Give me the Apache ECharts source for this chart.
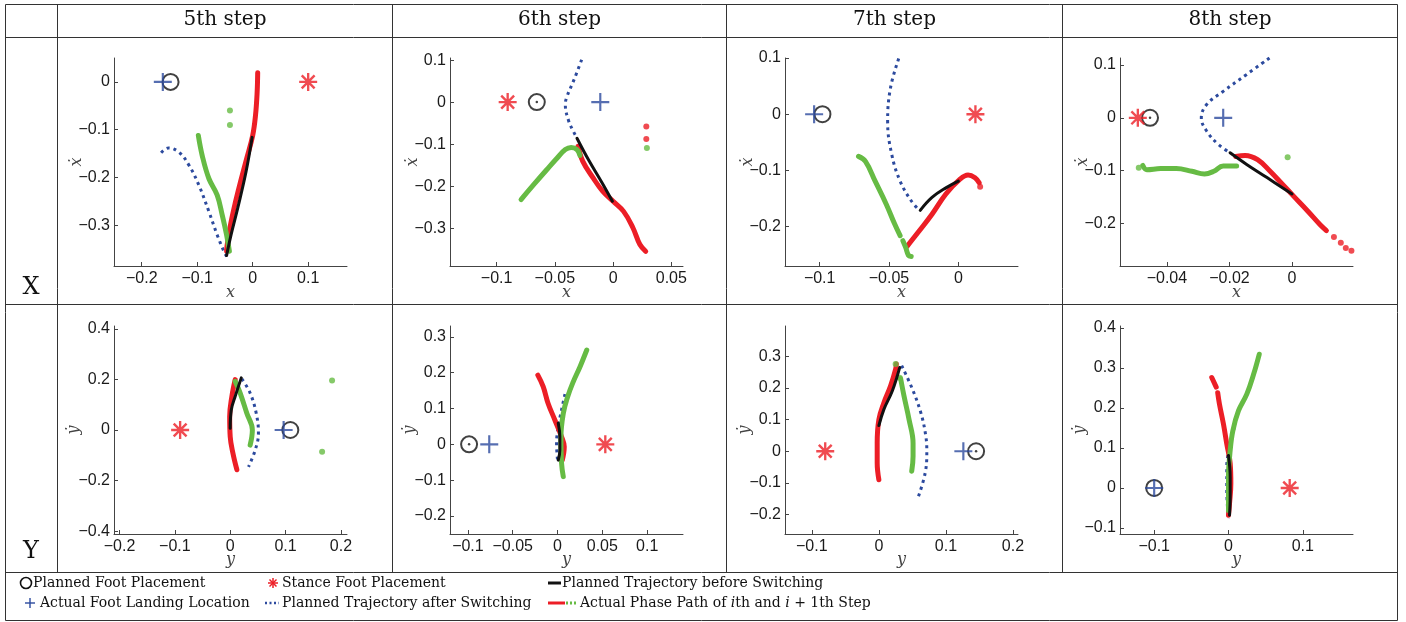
<!DOCTYPE html>
<html><head><meta charset="utf-8">
<script src="https://cdn.jsdelivr.net/npm/echarts@6/dist/echarts.min.js"></script>
<style>html,body{margin:0;padding:0;background:#fff}#c{width:1406px;height:622px}</style>
</head><body><div id="c"></div>
<script>
// ---------- text ----------
const steps = ['5th step', '6th step', '7th step', '8th step'];
const rowLabels = ['X', 'Y'];
const rowXNames = ['x', 'y'];
const rowYNames = ['\u1E8B', '\u1E8F'];

// ---------- X row, 5th step ----------
const x5XRange = [-0.25, 0.17], x5YRange = [-0.385, 0.05];
const x5XTicks = [-0.2, -0.1, 0, 0.1], x5YTicks = [-0.3, -0.2, -0.1, 0];
const x5Red = [[0.009,0.019],[0.008,-0.022],[0.005,-0.071],[0,-0.112],[-0.011,-0.161],[-0.022,-0.209],[-0.031,-0.251],[-0.040,-0.299],[-0.046,-0.341],[-0.047,-0.354]];
const x5RedDots = [];
const x5Green = [[-0.098,-0.112],[-0.091,-0.154],[-0.079,-0.202],[-0.064,-0.237],[-0.055,-0.278],[-0.047,-0.320],[-0.042,-0.354]];
const x5GreenDots = [[-0.041,-0.060],[-0.041,-0.090]];
const x5Blue = [[-0.165,-0.148],[-0.152,-0.138],[-0.133,-0.147],[-0.115,-0.174],[-0.097,-0.216],[-0.079,-0.271],[-0.064,-0.320],[-0.052,-0.354],[-0.047,-0.365]];
const x5Black = [[-0.001,-0.116],[-0.012,-0.188],[-0.027,-0.264],[-0.039,-0.320],[-0.047,-0.363]];
const x5Planned = [[-0.148,0]], x5Actual = [[-0.162,0]], x5Stance = [[0.1,0]];

// ---------- X row, 6th step ----------
const x6XRange = [-0.14, 0.06], x6YRange = [-0.39, 0.105];
const x6XTicks = [-0.1, -0.05, 0, 0.05], x6YTicks = [-0.3, -0.2, -0.1, 0, 0.1];
const x6Red = [[-0.030,-0.105],[-0.026,-0.141],[-0.017,-0.181],[-0.009,-0.212],[0,-0.236],[0.009,-0.260],[0.017,-0.299],[0.023,-0.339],[0.028,-0.355]];
const x6RedDots = [[0.0285,-0.058],[0.0285,-0.088]];
const x6Green = [[-0.079,-0.232],[-0.068,-0.196],[-0.057,-0.161],[-0.048,-0.133],[-0.041,-0.113],[-0.036,-0.108],[-0.031,-0.113],[-0.0285,-0.127]];
const x6GreenDots = [[0.029,-0.109]];
const x6Blue = [[-0.027,0.101],[-0.033,0.057],[-0.040,0.010],[-0.041,-0.006],[-0.038,-0.046],[-0.034,-0.070],[-0.031,-0.086]];
const x6Black = [[-0.031,-0.086],[-0.021,-0.138],[-0.0095,-0.192],[-0.0006,-0.236]];
const x6Planned = [[-0.0655,0]], x6Actual = [[-0.011,0]], x6Stance = [[-0.0905,0]];

// ---------- X row, 7th step ----------
const x7XRange = [-0.125, 0.043], x7YRange = [-0.27, 0.1];
const x7XTicks = [-0.1, -0.05, 0], x7YTicks = [-0.2, -0.1, 0, 0.1];
const x7Red = [[-0.037,-0.235],[-0.028,-0.207],[-0.019,-0.178],[-0.009,-0.142],[0.001,-0.116],[0.007,-0.108],[0.012,-0.113],[0.015,-0.122]];
const x7RedDots = [[0.0157,-0.129]];
const x7Green = [[-0.072,-0.075],[-0.067,-0.084],[-0.060,-0.119],[-0.052,-0.160],[-0.046,-0.195],[-0.042,-0.216]];
const x7Green2 = [[-0.040,-0.225],[-0.038,-0.237],[-0.036,-0.251],[-0.034,-0.253]];
const x7GreenDots = [];
const x7Blue = [[-0.043,0.099],[-0.049,0.046],[-0.051,-0.013],[-0.048,-0.072],[-0.042,-0.119],[-0.034,-0.154],[-0.028,-0.171]];
const x7Black = [[-0.0275,-0.171],[-0.019,-0.148],[-0.009,-0.131],[0,-0.119]];
const x7Planned = [[-0.098,0]], x7Actual = [[-0.104,0]], x7Stance = [[0.0123,0]];

// ---------- X row, 8th step ----------
const x8XRange = [-0.055, 0.0195], x8YRange = [-0.28, 0.113];
const x8XTicks = [-0.04, -0.02, 0], x8YTicks = [-0.2, -0.1, 0, 0.1];
const x8Red = [[-0.018,-0.073],[-0.015,-0.071],[-0.011,-0.079],[-0.007,-0.101],[-0.003,-0.126],[0.0005,-0.148],[0.005,-0.176],[0.009,-0.202],[0.011,-0.213]];
const x8RedDots = [[0.0134,-0.225],[0.0156,-0.236],[0.0172,-0.246],[0.019,-0.251]];
const x8Green = [[-0.0477,-0.090],[-0.0464,-0.098],[-0.042,-0.096],[-0.037,-0.096],[-0.032,-0.101],[-0.028,-0.106],[-0.025,-0.101],[-0.022,-0.091],[-0.0177,-0.091]];
const x8GreenDots = [[-0.049,-0.0945],[-0.0014,-0.0744]];
const x8Blue = [[-0.0072,0.113],[-0.0145,0.082],[-0.022,0.050],[-0.0273,0.025],[-0.029,0],[-0.0273,-0.025],[-0.0236,-0.050],[-0.0198,-0.066]];
const x8Black = [[-0.0198,-0.066],[-0.0145,-0.088],[-0.008,-0.113],[0,-0.144]];
const x8Planned = [[-0.0454,0]], x8Actual = [[-0.022,0]], x8Stance = [[-0.0493,0]];

// ---------- Y row, 5th step ----------
const y5XRange = [-0.21, 0.211], y5YRange = [-0.411, 0.411];
const y5XTicks = [-0.2, -0.1, 0, 0.1, 0.2], y5YTicks = [-0.4, -0.2, 0, 0.2, 0.4];
const y5Red = [[0.009,0.199],[0.003,0.133],[-0.001,0.053],[0,-0.027],[0.005,-0.093],[0.012,-0.157]];
const y5RedDots = [];
const y5Green = [[0.009,0.192],[0.018,0.146],[0.030,0.066],[0.040,0],[0.039,-0.027],[0.036,-0.060]];
const y5GreenDots = [[0.184,0.196],[0.166,-0.086]];
const y5Blue = [[0.021,0.202],[0.036,0.146],[0.047,0.066],[0.051,-0.013],[0.045,-0.080],[0.033,-0.146]];
const y5Black = [[0,0.007],[0.002,0.080],[0.009,0.133],[0.020,0.206]];
const y5Planned = [[0.1086,0]], y5Actual = [[0.0965,0]], y5Stance = [[-0.0905,0]];

// ---------- Y row, 6th step ----------
const y6XRange = [-0.12, 0.14], y6YRange = [-0.25, 0.33];
const y6XTicks = [-0.1, -0.05, 0, 0.05, 0.1], y6YTicks = [-0.2, -0.1, 0, 0.1, 0.2, 0.3];
const y6Red = [[-0.022,0.193],[-0.016,0.161],[-0.0105,0.114],[-0.003,0.068],[0.0045,0.021],[0.0075,-0.0065],[0.0053,-0.044]];
const y6RedDots = [];
const y6Green = [[0.0326,0.263],[0.0251,0.2165],[0.0176,0.175],[0.0113,0.133],[0.0064,0.086],[0.0038,0.021],[0.0045,-0.053],[0.0064,-0.090]];
const y6GreenDots = [];
const y6Blue = [[0.0083,0.140],[0.0045,0.096],[0.0008,0.049],[-0.0011,0.003],[0,-0.044]];
const y6Black = [[0.0008,0.059],[0.0026,0.021],[0.0026,-0.016],[0.0008,-0.044]];
const y6Planned = [[-0.0987,0]], y6Actual = [[-0.0762,0]], y6Stance = [[0.0533,0]];

// ---------- Y row, 7th step ----------
const y7XRange = [-0.14, 0.2075], y7YRange = [-0.261, 0.395];
const y7XTicks = [-0.1, 0, 0.1, 0.2], y7YTicks = [-0.2, -0.1, 0, 0.1, 0.2, 0.3];
const y7Red = [[0,-0.090],[-0.0025,-0.037],[-0.0025,0.026],[0,0.100],[0.0075,0.153],[0.0175,0.206],[0.025,0.259],[0.026,0.275]];
const y7RedDots = [];
const y7Green = [[0.0325,0.229],[0.0375,0.174],[0.045,0.100],[0.051,0.026],[0.051,-0.016],[0.049,-0.063]];
const y7GreenDots = [[0.025,0.275],[0.031,0.232]];
const y7Blue = [[0.034,0.270],[0.050,0.196],[0.0625,0.122],[0.070,0.048],[0.0715,-0.005],[0.069,-0.069],[0.059,-0.143]];
const y7Black = [[0,0.081],[0.0075,0.132],[0.020,0.190],[0.031,0.264]];
const y7Planned = [[0.145,0]], y7Actual = [[0.126,0]], y7Stance = [[-0.08,0]];

// ---------- Y row, 8th step ----------
const y8XRange = [-0.146, 0.1676], y8YRange = [-0.115, 0.4046];
const y8XTicks = [-0.1, 0, 0.1], y8YTicks = [-0.1, 0, 0.1, 0.2, 0.3, 0.4];
const y8Red = [[-0.0225,0.276],[-0.0165,0.252]];
const y8Red2 = [[-0.0145,0.238],[-0.0122,0.210],[-0.0068,0.160],[-0.0023,0.110],[0.0023,0.061],[0.0032,0.011],[0.0014,-0.039],[0,-0.068]];
const y8RedDots = [];
const y8Green = [[0.0414,0.334],[0.0338,0.284],[0.0248,0.235],[0.0135,0.193],[0.0059,0.143],[0.0023,0.094],[0,0.027],[0,-0.056]];
const y8GreenDots = [];
const y8Blue = [[0.0077,0.150],[0.0023,0.110],[-0.0023,0.052],[-0.0023,-0.006],[0,-0.076]];
const y8Black = [[0,0.081],[0.0023,0.027],[0.0023,-0.022],[0.0014,-0.068]];
const y8Planned = [[-0.1,0]], y8Actual = [[-0.1,0]], y8Stance = [[0.0824,0]];

// ---------- legend text ----------
const legendRow1 = ['Planned Foot Placement', 'Stance Foot Placement', 'Planned Trajectory before Switching'];
const legendRow2 = ['Actual Foot Landing Location', 'Planned Trajectory after Switching', 'Actual Phase Path of {i|i}th and {i|i} + 1th Step'];

// ---------- build ----------
const panels = [
  {r:0,c:0,xr:x5XRange,yr:x5YRange,xt:x5XTicks,yt:x5YTicks,red:[x5Red],redDots:x5RedDots,green:[x5Green],greenDots:x5GreenDots,blue:x5Blue,black:x5Black,planned:x5Planned,actual:x5Actual,stance:x5Stance,dot:false},
  {r:0,c:1,xr:x6XRange,yr:x6YRange,xt:x6XTicks,yt:x6YTicks,red:[x6Red],redDots:x6RedDots,green:[x6Green],greenDots:x6GreenDots,blue:x6Blue,black:x6Black,planned:x6Planned,actual:x6Actual,stance:x6Stance,dot:true},
  {r:0,c:2,xr:x7XRange,yr:x7YRange,xt:x7XTicks,yt:x7YTicks,red:[x7Red],redDots:x7RedDots,green:[x7Green,x7Green2],greenDots:x7GreenDots,blue:x7Blue,black:x7Black,planned:x7Planned,actual:x7Actual,stance:x7Stance,dot:false},
  {r:0,c:3,xr:x8XRange,yr:x8YRange,xt:x8XTicks,yt:x8YTicks,red:[x8Red],redDots:x8RedDots,green:[x8Green],greenDots:x8GreenDots,blue:x8Blue,black:x8Black,planned:x8Planned,actual:x8Actual,stance:x8Stance,dot:true},
  {r:1,c:0,xr:y5XRange,yr:y5YRange,xt:y5XTicks,yt:y5YTicks,red:[y5Red],redDots:y5RedDots,green:[y5Green],greenDots:y5GreenDots,blue:y5Blue,black:y5Black,planned:y5Planned,actual:y5Actual,stance:y5Stance,dot:false},
  {r:1,c:1,xr:y6XRange,yr:y6YRange,xt:y6XTicks,yt:y6YTicks,red:[y6Red],redDots:y6RedDots,green:[y6Green],greenDots:y6GreenDots,blue:y6Blue,black:y6Black,planned:y6Planned,actual:y6Actual,stance:y6Stance,dot:true},
  {r:1,c:2,xr:y7XRange,yr:y7YRange,xt:y7XTicks,yt:y7YTicks,red:[y7Red],redDots:y7RedDots,green:[y7Green],greenDots:y7GreenDots,blue:y7Blue,black:y7Black,planned:y7Planned,actual:y7Actual,stance:y7Stance,dot:true},
  {r:1,c:3,xr:y8XRange,yr:y8YRange,xt:y8XTicks,yt:y8YTicks,red:[y8Red,y8Red2],redDots:y8RedDots,green:[y8Green],greenDots:y8GreenDots,blue:y8Blue,black:y8Black,planned:y8Planned,actual:y8Actual,stance:y8Stance,dot:false}
];

const RED = '#ec1e26', GREEN = '#66bb44', BLUE = '#2c4a9e', BLACK = '#111111';
const SERIF = '"DejaVu Serif", "Liberation Serif", serif';
const SANS = '"Liberation Sans", Arial, sans-serif';
const PLUS = 'path://M8.8,0H11.2V20H8.8Z M0,8.8H20V11.2H0Z';
const STAR = 'path://M8.7,0H11.3V20H8.7Z M0,8.7H20V11.3H0Z M3.8,1.9L18.1,16.2L16.2,18.1L1.9,3.8Z M16.2,1.9L18.1,3.8L3.8,18.1L1.9,16.2Z';
const colLeft = [114, 450, 785, 1120], rowTop = [58, 326], GW = 233, GH = 208;
const fmt = v => (v < 0 ? '\u2212' : '') + Math.abs(v);

const grids = [], xAxes = [], yAxes = [], series = [];
panels.forEach((p, i) => {
  grids.push({left: colLeft[p.c], top: rowTop[p.r], width: GW, height: GH, containLabel: false});
  const axisCommon = {
    type: 'value', gridIndex: i, splitLine: {show: false},
    axisLine: {show: true, onZero: false, lineStyle: {color: '#444', width: 1}},
    nameLocation: 'middle', nameMoveOverlap: false,
    nameTextStyle: {fontFamily: SERIF, fontStyle: 'italic', fontSize: 16, color: '#444'}
  };
  xAxes.push(Object.assign({}, axisCommon, {
    min: p.xr[0], max: p.xr[1], name: rowXNames[p.r], nameGap: p.r === 0 ? 19 : 18,
    axisTick: {show: true, inside: true, length: 4, customValues: p.xt, lineStyle: {color: '#444'}},
    axisLabel: {customValues: p.xt, formatter: fmt, margin: 5, fontSize: 16, color: '#1a1a1a', fontFamily: SANS}
  }));
  yAxes.push(Object.assign({}, axisCommon, {
    min: p.yr[0], max: p.yr[1], name: rowYNames[p.r], nameGap: p.r === 0 ? 29 : 32,
    axisTick: {show: true, inside: true, length: 4, customValues: p.yt, lineStyle: {color: '#444'}},
    axisLabel: {customValues: p.yt, formatter: fmt, margin: 4, fontSize: 16, color: '#1a1a1a', fontFamily: SANS}
  }));
  const ax = {xAxisIndex: i, yAxisIndex: i, silent: true, animation: false};
  const thick = (data, color, z) => Object.assign({type: 'line', data, smooth: 0.4, symbol: 'none', z,
    lineStyle: {color, width: 5, cap: 'round', join: 'round'}}, ax);
  const dots = (data, color, z) => Object.assign({type: 'scatter', data, symbol: 'circle', symbolSize: 6, z,
    itemStyle: {color}}, ax);
  series.push(Object.assign({type: 'line', data: p.blue, smooth: 0.4, symbol: 'none', z: 2,
    lineStyle: {color: BLUE, width: 3, type: [3, 4]}}, ax));
  p.red.forEach(seg => series.push(thick(seg, RED, 3)));
  series.push(dots(p.redDots, RED, 3));
  p.green.forEach(seg => series.push(thick(seg, GREEN, 4)));
  series.push(dots(p.greenDots, GREEN, 4));
  series.push(Object.assign({type: 'line', data: p.black, smooth: 0.4, symbol: 'none', z: 5,
    lineStyle: {color: BLACK, width: 3, cap: 'round'}}, ax));
  series.push(Object.assign({type: 'scatter', data: p.planned, symbol: 'circle', symbolSize: 16, z: 6,
    itemStyle: {color: 'rgba(0,0,0,0)', borderColor: BLACK, borderWidth: 2}}, ax));
  if (p.dot) series.push(Object.assign({type: 'scatter', data: p.planned, symbol: 'circle', symbolSize: 2.5, z: 6,
    itemStyle: {color: BLACK}}, ax));
  series.push(Object.assign({type: 'scatter', data: p.actual, symbol: PLUS, symbolSize: 18, z: 7,
    itemStyle: {color: BLUE}}, ax));
  series.push(Object.assign({type: 'scatter', data: p.stance, symbol: STAR, symbolSize: 18, z: 7,
    itemStyle: {color: RED}}, ax));
});

// ---------- table + legend graphics ----------
const LC = '#333';
const hline = (x1, x2, y) => ({type: 'line', silent: true, shape: {x1, y1: y, x2, y2: y}, style: {stroke: LC, lineWidth: 1}});
const vline = (x, y1, y2) => ({type: 'line', silent: true, shape: {x1: x, y1, x2: x, y2}, style: {stroke: LC, lineWidth: 1}});
const colX = [5.5, 57.5, 392.5, 726.5, 1062.5, 1397.5];
const g = [];
g.push({type: 'rect', silent: true, shape: {x: 5.5, y: 4.5, width: 1392, height: 616}, style: {fill: null, stroke: LC, lineWidth: 1}});
g.push(hline(5.5, 1397.5, 37.5), hline(5.5, 1397.5, 304.5), hline(5.5, 1397.5, 572.5));
[1, 2, 3, 4].forEach(k => g.push(vline(colX[k], 4.5, 572.5)));
steps.forEach((s, k) => g.push({type: 'text', silent: true, style: {text: s, x: (colX[k + 1] + colX[k + 2]) / 2, y: 20,
  align: 'center', verticalAlign: 'middle', fontFamily: SERIF, fontSize: 20, fill: '#111'}}));
rowLabels.forEach((s, k) => g.push({type: 'text', silent: true, style: {text: s, x: 31, y: k === 0 ? 288 : 552,
  align: 'center', verticalAlign: 'middle', fontFamily: SERIF, fontSize: 24, fill: '#111'}}));
const legText = (text, x, y) => ({type: 'text', silent: true, style: {text, x, y, align: 'left', verticalAlign: 'middle',
  fontFamily: SERIF, fontSize: 14, fill: '#111', rich: {i: {fontFamily: SERIF, fontStyle: 'italic', fontSize: 14, fill: '#111'}}}});
const L1 = 583, L2 = 603;
// row 1
g.push({type: 'circle', silent: true, shape: {cx: 26, cy: L1, r: 5.5}, style: {fill: null, stroke: BLACK, lineWidth: 1.6}});
g.push(legText(legendRow1[0], 33, L1));
[[0, 5], [5, 0], [3.5, 3.5], [3.5, -3.5]].forEach(([dx, dy]) => g.push({type: 'line', silent: true,
  shape: {x1: 273 - dx, y1: L1 - dy, x2: 273 + dx, y2: L1 + dy}, style: {stroke: RED, lineWidth: 1.5}}));
g.push(legText(legendRow1[1], 282, L1));
g.push({type: 'line', silent: true, shape: {x1: 548, y1: L1, x2: 561, y2: L1}, style: {stroke: BLACK, lineWidth: 3}});
g.push(legText(legendRow1[2], 562, L1));
// row 2
g.push({type: 'line', silent: true, shape: {x1: 25, y1: L2, x2: 35, y2: L2}, style: {stroke: BLUE, lineWidth: 1.4}});
g.push({type: 'line', silent: true, shape: {x1: 30, y1: L2 - 5, x2: 30, y2: L2 + 5}, style: {stroke: BLUE, lineWidth: 1.4}});
g.push(legText(legendRow2[0], 40, L2));
g.push({type: 'line', silent: true, shape: {x1: 265, y1: L2, x2: 279, y2: L2}, style: {stroke: BLUE, lineWidth: 2.5, lineDash: [2, 2.5]}});
g.push(legText(legendRow2[1], 282, L2));
g.push({type: 'line', silent: true, shape: {x1: 548, y1: L2, x2: 565, y2: L2}, style: {stroke: RED, lineWidth: 3}});
g.push({type: 'line', silent: true, shape: {x1: 566, y1: L2, x2: 576, y2: L2}, style: {stroke: GREEN, lineWidth: 3, lineDash: [2, 2]}});
g.push(legText(legendRow2[2], 580, L2));

const chart = echarts.init(document.getElementById('c'), null, {renderer: 'canvas'});
chart.setOption({
  animation: false,
  backgroundColor: '#fff',
  grid: grids, xAxis: xAxes, yAxis: yAxes, series,
  graphic: g
});
</script></body></html>
